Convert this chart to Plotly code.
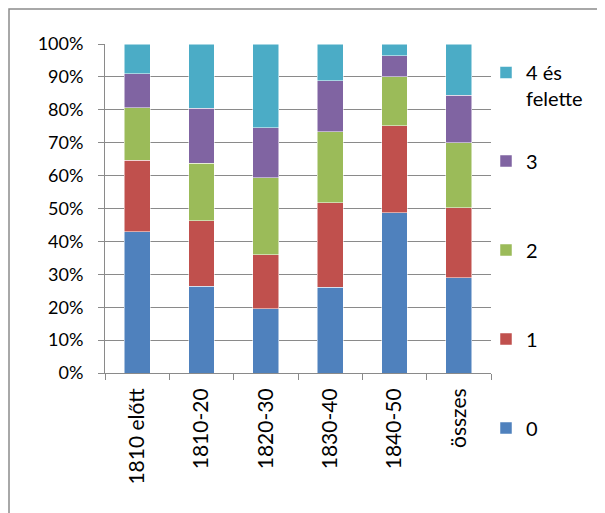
import plotly.graph_objects as go

categories = ['1810 előtt', '1810-20', '1820-30', '1830-40', '1840-50', 'összes']
series_names = ['0', '1', '2', '3', '4 és<br>felette']
v0 = [42.9, 26.3, 19.6, 26.1, 48.7, 28.9]
v1 = [21.8, 20.0, 16.4, 25.7, 26.4, 21.4]
v2 = [16.0, 17.5, 23.3, 21.5, 14.9, 19.7]
v3 = [10.2, 16.6, 15.2, 15.6, 6.4, 14.4]
v4 = [9.1, 19.6, 25.5, 11.1, 3.6, 15.6]
colors = ['#4F81BD', '#C0504D', '#9BBB59', '#8064A2', '#4BACC6']

FONT = 'Lato, Calibri, Arial, sans-serif'
GRID = '#8a8a8a'
W, H = 605, 513

# the page puts the figure 8px in from the corner, so the plot sits at 97..483 x 36..365
L, T, R, B = 97, 36, 122, 148
PW, PH = W - L - R, H - T - B

# where each legend entry sits (figure px of the entry centre / top for the two-line one)
legend_y = [420, 331, 242, 153, 45]

fig = go.Figure()
for i, (name, vals) in enumerate(zip(series_names, [v0, v1, v2, v3, v4])):
    fig.add_trace(go.Bar(x=categories, y=vals, name=name, legend=f'legend{i + 2}',
                         marker=dict(color=colors[i], line=dict(color='white', width=0.5))))

legends = {}
for i, yc in enumerate(legend_y):
    top = i == 4
    legends[f'legend{i + 2}'] = dict(xref='container', yref='container',
                                     x=478 / W, xanchor='left',
                                     y=(H - yc) / H, yanchor='top' if top else 'middle',
                                     valign='top', font=dict(size=20), itemwidth=30,
                                     bgcolor='rgba(0,0,0,0)')

fig.update_layout(
    barmode='stack', barnorm='percent', bargap=0.6,
    width=W, height=H,
    margin=dict(l=L, r=R, t=T, b=B, autoexpand=False),
    plot_bgcolor='white', paper_bgcolor='white',
    font=dict(family=FONT, size=17, color='black'),
    shapes=[dict(type='rect', xref='paper', yref='paper',
                 x0=(1 - L) / PW, x1=1.4, y0=-0.6, y1=(PH + T - 1) / PH,
                 line=dict(color='#8c8c8c', width=1.5))],
    **legends,
)
fig.update_yaxes(range=[0, 100], dtick=10, ticksuffix='%', showgrid=True,
                 gridcolor=GRID, gridwidth=1, showline=True, linecolor=GRID,
                 ticks='outside', ticklen=6, tickcolor=GRID, zeroline=False,
                 tickfont=dict(size=18), ticklabelstandoff=11)
fig.update_xaxes(tickangle=-90, showline=True, linecolor=GRID, ticks='outside',
                 tickson='boundaries', ticklen=6, tickcolor=GRID,
                 tickfont=dict(size=21), ticklabelstandoff=6)

fig.write_html("out.html")
